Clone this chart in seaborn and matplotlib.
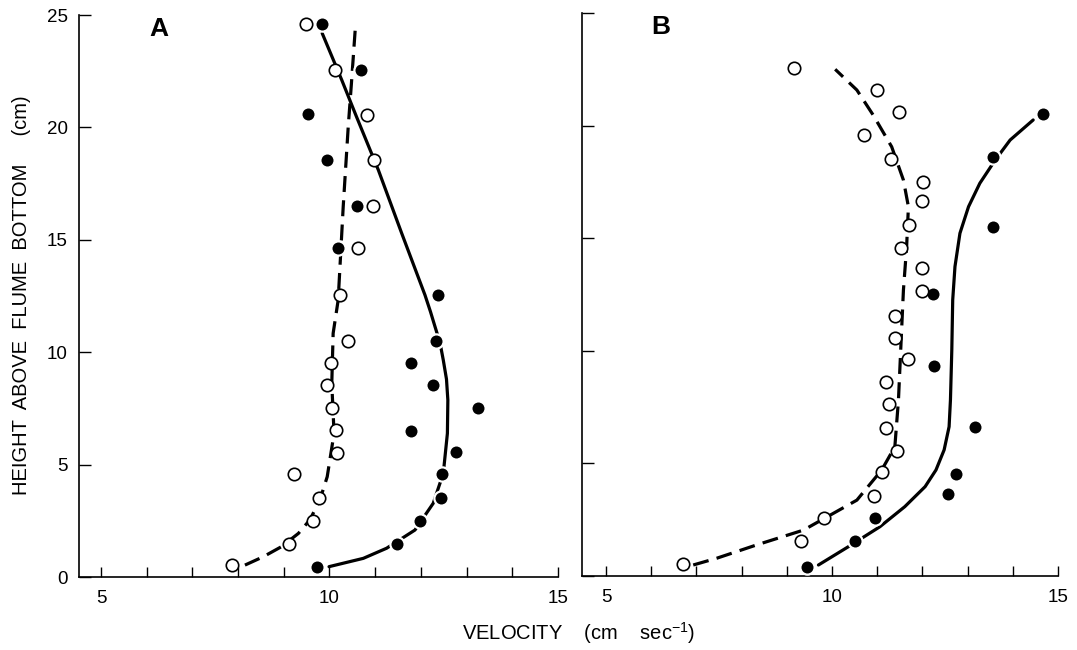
import numpy as np
import pandas as pd
import seaborn as sns
import matplotlib.pyplot as plt

# velocity (cm/s) and height above flume bottom (cm)
# panel A - measured points
a_open_v = [9.48, 10.12, 10.83, 10.97, 10.96, 10.63, 10.23, 10.41, 10.03, 9.94,
            10.06, 10.14, 10.16, 9.22, 9.76, 9.65, 9.12, 7.86]
a_open_h = [24.6, 22.55, 20.55, 18.55, 16.52, 14.62, 12.54, 10.5, 9.53, 8.54,
            7.5, 6.54, 5.53, 4.58, 3.53, 2.5, 1.47, 0.53]
a_fill_v = [9.83, 10.68, 9.54, 9.94, 10.61, 10.19, 12.38, 12.33, 11.78, 12.26,
            13.26, 11.78, 12.76, 12.47, 12.43, 11.98, 11.48, 9.72]
a_fill_h = [24.6, 22.55, 20.6, 18.55, 16.52, 14.62, 12.54, 10.5, 9.53, 8.54,
            7.53, 6.5, 5.57, 4.57, 3.53, 2.5, 1.47, 0.46]

# panel A - hand drawn profiles
a_solid_v = [9.99, 10.74, 11.25, 11.87, 12.27, 12.49, 12.58, 12.59, 12.56, 12.49,
             12.42, 12.31, 12.21, 12.09, 11.58, 11.07, 10.59, 10.27, 9.84]
a_solid_h = [0.46, 0.83, 1.28, 2.09, 3.28, 4.61, 6.39, 7.87, 8.8, 9.65,
             10.4, 11.13, 11.8, 12.54, 15.29, 18.1, 20.48, 22.1, 24.19]
a_dash_v = [8.15, 8.55, 8.95, 9.32, 9.57, 9.79, 9.95, 10.1, 10.05, 10.08,
            10.19, 10.3, 10.41, 10.48, 10.57]
a_dash_h = [0.53, 0.9, 1.35, 1.94, 2.54, 3.43, 4.46, 6.39, 8.6, 10.84,
            12.32, 16.47, 20.03, 21.96, 24.56]

# panel B - measured points
b_open_v = [9.17, 10.99, 11.49, 10.71, 11.30, 12.02, 12.00, 11.71, 11.52, 12.00,
            12.00, 11.39, 11.39, 11.67, 11.19, 11.25, 11.19, 11.44, 11.10, 10.93,
            9.82, 9.31, 6.70]
b_open_h = [22.55, 21.58, 20.6, 19.58, 18.5, 17.51, 16.67, 15.59, 14.55, 13.66,
            12.67, 11.56, 10.55, 9.62, 8.63, 7.64, 6.59, 5.57, 4.63, 3.55,
            2.56, 1.57, 0.53]
b_fill_v = [14.66, 13.56, 13.56, 12.24, 12.26, 13.16, 12.74, 12.57, 10.95, 10.51, 9.44]
b_fill_h = [20.52, 18.62, 15.51, 12.52, 9.34, 6.6, 4.53, 3.63, 2.56, 1.57, 0.41]

# panel B - hand drawn profiles
b_solid_v = [9.70, 10.36, 11.06, 11.61, 12.06, 12.30, 12.48, 12.59, 12.62, 12.65,
             12.67, 12.72, 12.83, 13.02, 13.27, 13.61, 13.94, 14.45]
b_solid_h = [0.49, 1.3, 2.19, 3.08, 3.97, 4.71, 5.6, 6.63, 7.82, 10.04,
             12.26, 13.74, 15.22, 16.4, 17.44, 18.47, 19.36, 20.25]
b_dash_v = [6.93, 7.45, 8.33, 9.37, 10.55, 11.10, 11.39, 11.47, 11.53, 11.58,
            11.65, 11.69, 11.58, 11.32, 10.91, 10.55, 10.07]
b_dash_h = [0.49, 0.79, 1.38, 2.04, 3.37, 4.71, 5.74, 7.82, 10.5, 12.7,
            14.6, 16.4, 17.58, 19.06, 20.47, 21.58, 22.5]

x_ticks = list(range(5, 16))
x_ticklabels = ['5', '', '', '', '', '10', '', '', '', '', '15']
y_ticks = [0, 5, 10, 15, 20, 25]

sns.set_style('ticks')
plt.rcParams['font.family'] = ['Liberation Sans', 'DejaVu Sans']
plt.rcParams['mathtext.default'] = 'regular'
plt.rcParams['text.color'] = 'black'
plt.rcParams['xtick.color'] = 'black'
plt.rcParams['ytick.color'] = 'black'
plt.rcParams['axes.edgecolor'] = 'black'

fig = plt.figure(figsize=(10.77, 6.5), dpi=100)
ax_a = fig.add_axes([0.0734, 0.1123, 0.4447, 0.8646])
ax_b = fig.add_axes([0.5404, 0.1138, 0.4420, 0.8662])


def draw_panel(ax, ov, oh, fv, fh, sv, sh, dv, dh, letter, left):
    sns.lineplot(x=sv, y=sh, sort=False, estimator=None, ax=ax,
                 color='black', lw=2.3, zorder=2)
    sns.lineplot(x=dv, y=dh, sort=False, estimator=None, ax=ax,
                 color='black', lw=2.3, linestyle=(0, (5, 2.6)), zorder=2)
    sns.scatterplot(x=fv, y=fh, ax=ax, marker='o', s=105, color='black',
                    edgecolor='white', linewidth=1.6, zorder=3)
    sns.scatterplot(x=ov, y=oh, ax=ax, marker='o', s=80, facecolor='white',
                    edgecolor='black', linewidth=1.2, zorder=4)
    ax.set_xlim(left, 15)
    ax.set_ylim(0, 25)
    ax.set_xticks(x_ticks)
    ax.set_xticklabels(x_ticklabels)
    ax.set_yticks(y_ticks)
    ax.tick_params(axis='x', direction='in', length=7.5, width=1, pad=9,
                   labelsize=13.5, colors='black')
    ax.tick_params(axis='y', direction='in', length=8.5, width=1, pad=8,
                   labelsize=13.5, colors='black')
    ax.spines['top'].set_visible(False)
    ax.spines['right'].set_visible(False)
    for s in ['left', 'bottom']:
        ax.spines[s].set_linewidth(1.2)
        ax.spines[s].set_color('black')
    ax.set_xlabel('')
    ax.set_ylabel('')
    ax.text(0.166, 0.976, letter, transform=ax.transAxes, fontsize=19,
            fontweight='bold', ha='center', va='center')


draw_panel(ax_a, a_open_v, a_open_h, a_fill_v, a_fill_h,
           a_solid_v, a_solid_h, a_dash_v, a_dash_h, 'A', 4.52)
draw_panel(ax_b, b_open_v, b_open_h, b_fill_v, b_fill_h,
           b_solid_v, b_solid_h, b_dash_v, b_dash_h, 'B', 4.47)
ax_b.set_yticklabels([])

fig.text(0.02, 0.546, 'HEIGHT  ABOVE  FLUME  BOTTOM     (cm)', rotation=90,
         ha='center', va='center', fontsize=14.5)
fig.text(0.537, 0.026, 'VELOCITY    (cm    sec$^{-1}$)', ha='center',
         va='center', fontsize=14.5)

fig.savefig('out.png', dpi=100)
